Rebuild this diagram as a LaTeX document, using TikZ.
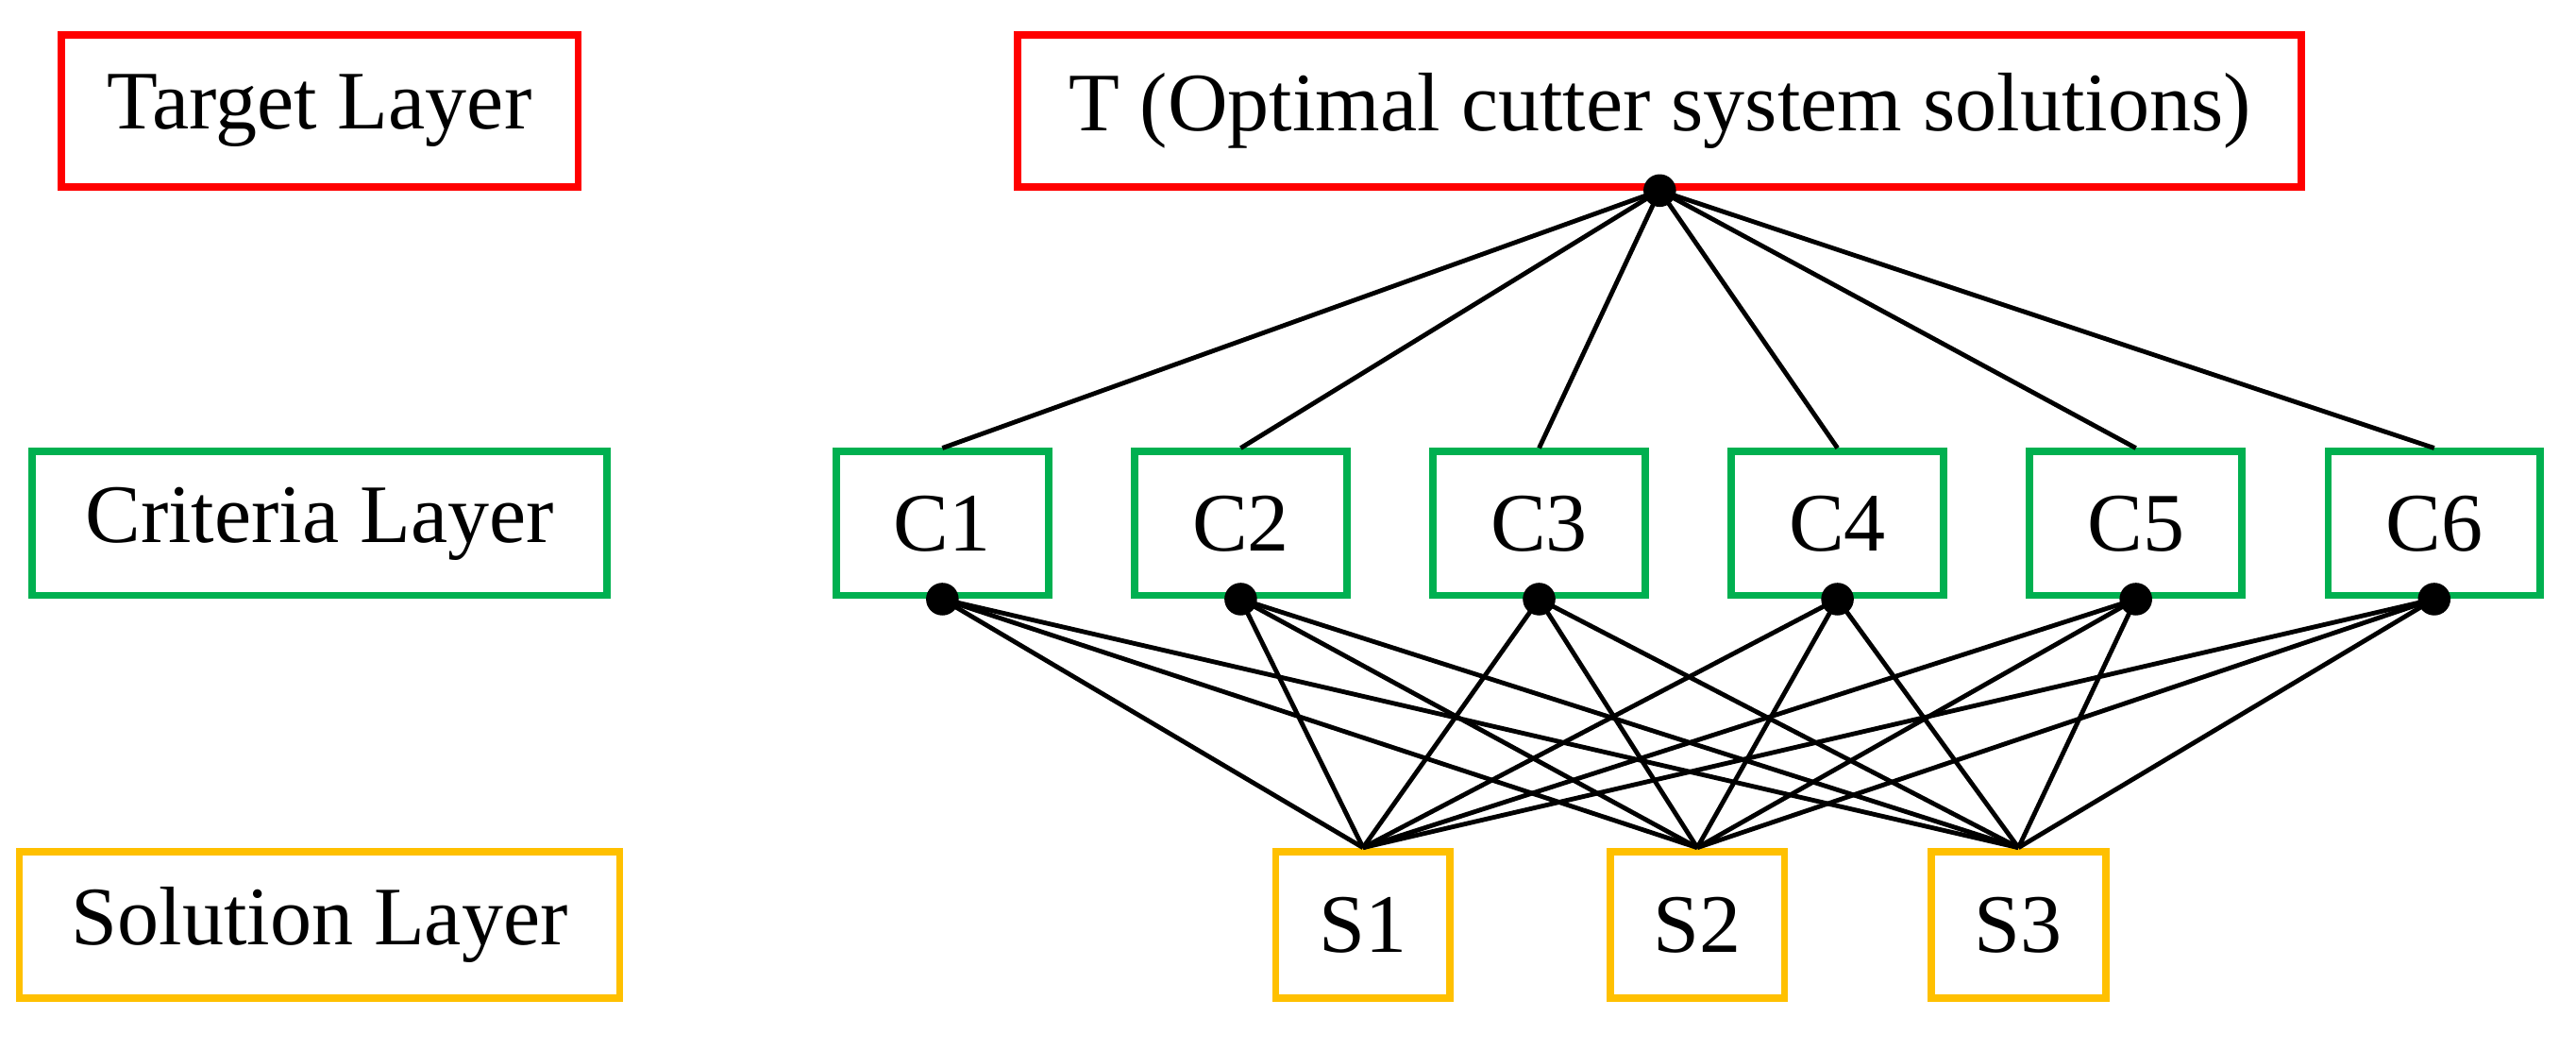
\documentclass[tikz,border=0pt]{standalone}
\usepackage{fontspec}
\setmainfont{Liberation Serif}
\begin{document}
\begin{tikzpicture}[x=0.01cm,y=-0.01cm,
  box/.style={draw,line width=1.3pt,inner sep=0pt,font=\fontsize{14.5}{17}\selectfont},
  tl/.style={box,draw=red},
  cl/.style={box,draw={rgb,255:red,0;green,176;blue,80}},
  sl/.style={box,draw={rgb,255:red,255;green,192;blue,0}},
  ln/.style={line width=0.8pt},
  dot/.style={circle,fill=black,inner sep=0pt,minimum size=0.2cm}]
\useasboundingbox (0,0) rectangle (1580,644);
\node[tl,minimum width=3.17cm,minimum height=0.93cm] (tlab) at (196,68) {Target Layer};
\node[tl,minimum width=7.87cm,minimum height=0.93cm] (T) at (1018,68) {T (Optimal cutter system solutions)};
\node[cl,minimum width=3.52cm,minimum height=0.88cm] (clab) at (196,321) {Criteria Layer};
\foreach \i/\x in {1/578,2/761,3/944,4/1127,5/1310,6/1493}
  \node[cl,minimum width=1.3cm,minimum height=0.88cm] (C\i) at (\x,321) {C\i};
\node[sl,minimum width=3.68cm,minimum height=0.9cm] (slab) at (196,567) {Solution Layer};
\foreach \i/\x in {1/836,2/1041,3/1238}
  \node[sl,minimum width=1.07cm,minimum height=0.9cm] (S\i) at (\x,567) {S\i};
\node[dot] (Td) at (T.south) {};
\foreach \i in {1,...,6}{
  \draw[ln] (Td.center) -- (C\i.north);
  \node[dot] (Cd\i) at (C\i.south) {};
  \foreach \j in {1,2,3} \draw[ln] (Cd\i.center) -- (S\j.north);
}
\end{tikzpicture}
\end{document}
